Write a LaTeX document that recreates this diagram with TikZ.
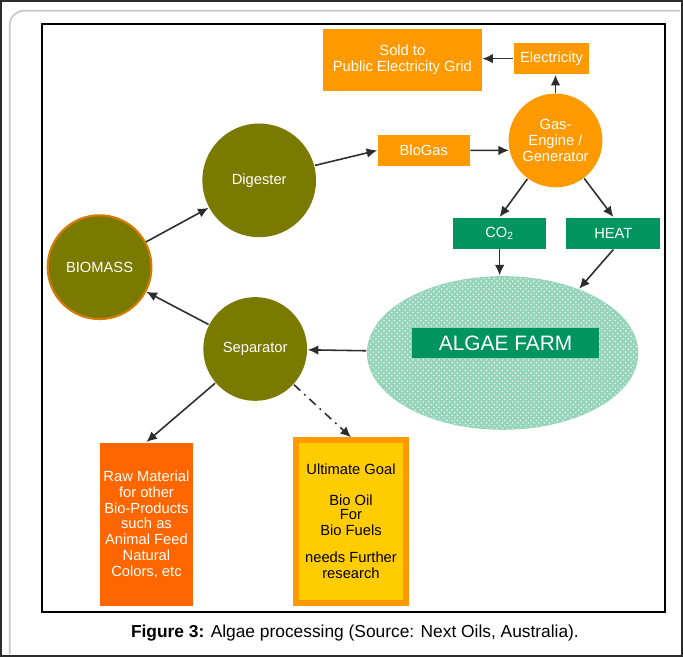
\documentclass[tikz,border=0pt]{standalone}
\usepackage{fontspec}
\setmainfont{Liberation Sans}
\usetikzlibrary{positioning,shapes.geometric,arrows.meta,patterns}
\definecolor{olivefill}{RGB}{122,122,0}
\definecolor{orangebox}{RGB}{255,153,0}
\definecolor{orangeedge}{RGB}{214,122,0}
\definecolor{rawfill}{RGB}{255,102,0}
\definecolor{goalfill}{RGB}{255,204,0}
\definecolor{greenbox}{RGB}{0,148,96}
\definecolor{farmfill}{RGB}{150,212,186}
\definecolor{flowgray}{RGB}{45,45,45}
\tikzstyle{stage}=[circle,fill=olivefill,text=white,inner sep=0pt,minimum size=2.08cm]
\tikzstyle{block}=[rectangle,fill=orangebox,text=white,inner sep=0pt,align=center]
\tikzstyle{gbox}=[block,fill=greenbox]
\newcommand{\newBlock}[4]{\node[#3](#1) at (#4){#2};}
\newcommand{\newFlow}[3]{\draw[->,#3] (#1) -- (#2);}

\begin{document}
\begin{tikzpicture}[x=0.02cm,y=-0.02cm,
      >={Latex[length=6pt,width=5.5pt]},
      every node/.style={font=\fontsize{8.4}{9.1}\selectfont},
      every path/.style={line width=0.9pt,draw=flowgray}  %arrows
      ]
      \useasboundingbox (0,0) rectangle (683,657);
      % frames
      \draw[gray!45,rounded corners=8pt] (681,10) -- (9,10) -- (9,655);
      \draw[black,line width=1pt] (41,23) rectangle (666,613);
      % algae farm
      \newBlock{farm}{}{ellipse,fill=farmfill,minimum width=5.44cm,minimum height=3.08cm,inner sep=0pt}{503,353}
      \path[pattern=crosshatch dots,pattern color=white!80!farmfill,draw=none]
        (farm.center) ellipse [x radius=2.7cm,y radius=1.52cm];
      \newBlock{farmlbl}{ALGAE FARM}{gbox,minimum width=3.76cm,minimum height=0.62cm,font=\fontsize{11.9}{13}\selectfont}{506,343}
      % nodes
      \newBlock{sold}{Sold to\\Public Electricity Grid}{block,minimum width=3.18cm,minimum height=1.24cm}{402.5,59}
      \newBlock{elec}{Electricity}{block,minimum width=1.5cm,minimum height=0.62cm}{552,58}
      \newBlock{biogas}{BloGas}{block,minimum width=1.84cm,minimum height=0.62cm}{424,150}
      \newBlock{gas}{Gas-\\Engine /\\Generator}{circle,fill=orangebox,text=white,inner sep=0pt,minimum size=1.88cm,align=center}{556,140}
      \newBlock{dig}{Digester}{stage,minimum size=2.28cm}{259,180}
      \newBlock{bio}{BIOMASS}{stage,draw=orangeedge,line width=1.2pt}{99,267}
      \newBlock{sep}{Separator}{stage}{255,349}
      \newBlock{co2}{CO\textsubscript{2}}{gbox,minimum width=1.86cm,minimum height=0.62cm}{500,233}
      \newBlock{heat}{HEAT}{gbox,minimum width=1.88cm,minimum height=0.62cm}{614,233}
      \newBlock{raw}{Raw Material\\for other\\Bio-Products\\such as\\Animal Feed\\Natural\\Colors, etc}{block,fill=rawfill,minimum width=1.88cm,minimum height=3.28cm}{146,525}
      \newBlock{goal}{Ultimate Goal\\[8.3pt]Bio Oil\\[-1pt]For\\Bio Fuels\\[6.6pt]needs Further\\research}{block,fill=goalfill,draw=orangebox,line width=0.12cm,text=black,minimum width=2.2cm,minimum height=3.26cm}{351,522}
      % flows
      \newFlow{elec.west}{sold.east |- elec.west}{}
      \newFlow{gas}{gas |- elec.south}{}
      \newFlow{dig.15}{biogas.west}{}
      \newFlow{biogas.east}{gas.192}{}
      \newFlow{bio}{dig}{}
      \newFlow{sep}{bio}{}
      \newFlow{gas}{co2.north}{}
      \newFlow{gas}{heat.north}{}
      \newFlow{co2}{co2 |- farm.north}{}
      \newFlow{heat.south}{farm.40}{}
      \newFlow{farm}{sep}{}
      \newFlow{sep}{raw.north}{}
      \newFlow{sep}{goal.north}{dash pattern=on 5pt off 3pt on 1pt off 3pt}
      % caption
      \node[font=\fontsize{9.9}{11}\selectfont] (caption) at (355,634)
        {\textbf{Figure 3:} Algae processing (Source: Next Oils, Australia).};
    \end{tikzpicture}
\end{document}
